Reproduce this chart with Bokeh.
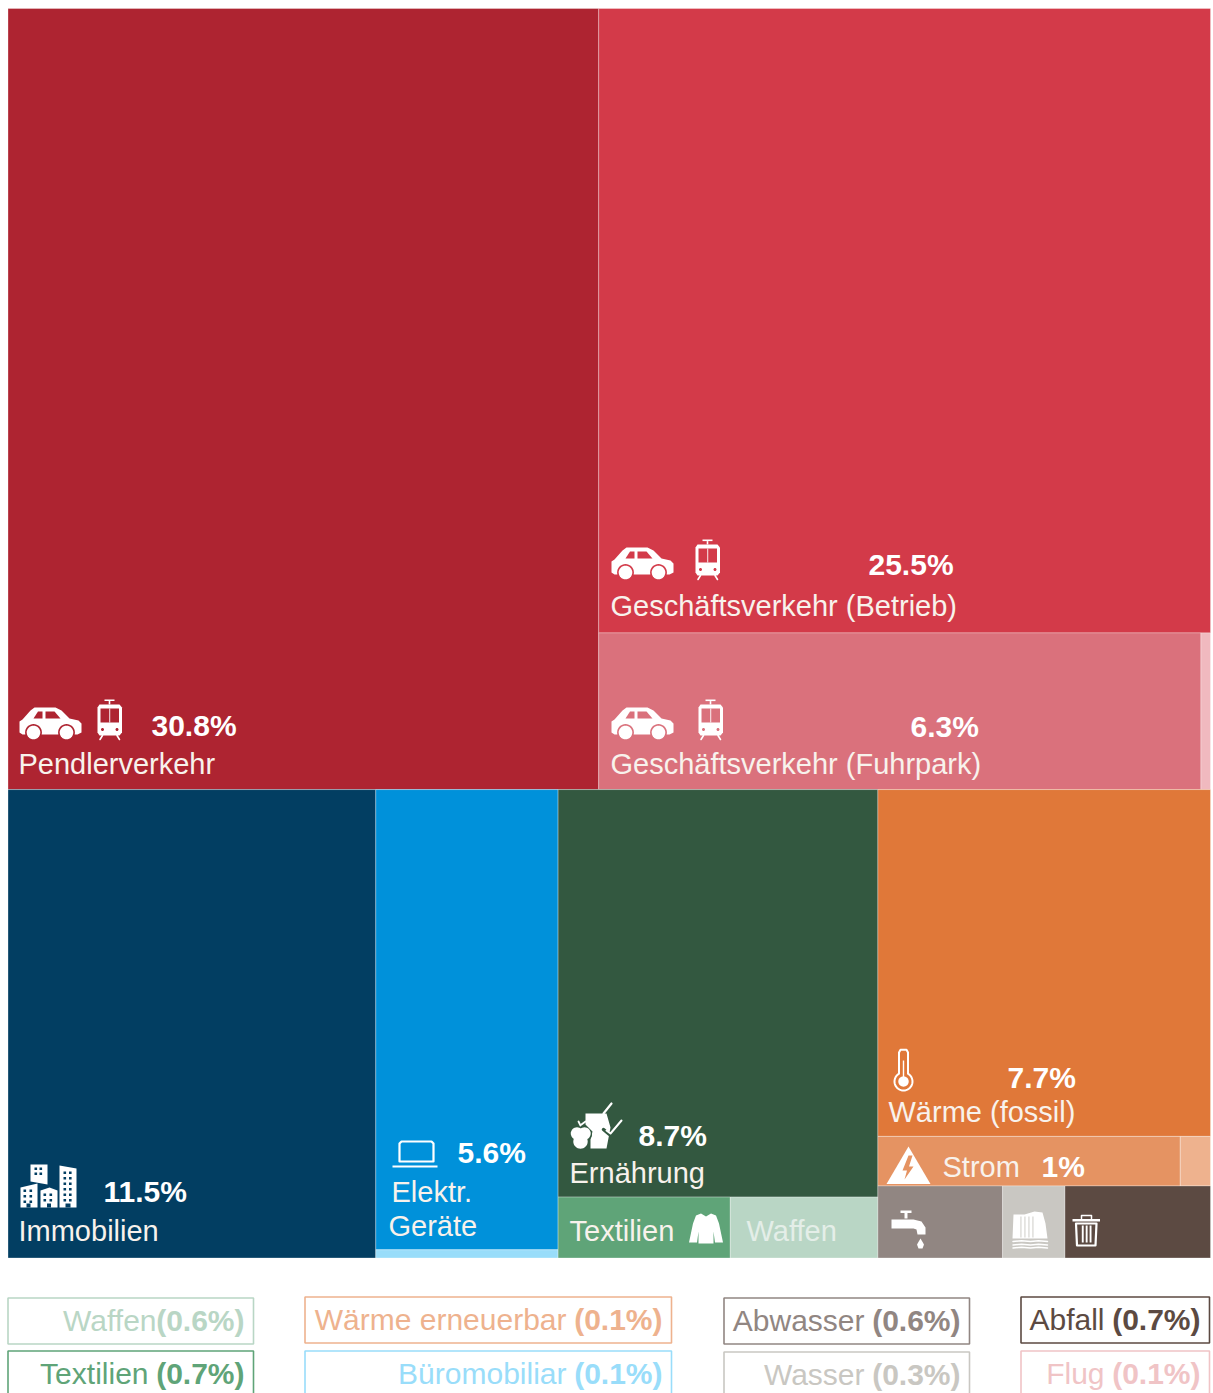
import numpy as np
from bokeh.core.properties import value
from bokeh.embed import file_html
from bokeh.models import ColumnDataSource, Range1d
from bokeh.plotting import figure
from bokeh.resources import INLINE

# Emission shares in percent
pendler = 30.8
betrieb = 25.5
fuhrpark = 6.3
flug = 0.1
immobilien = 11.5
elektro = 5.6
buero = 0.1
ernaehrung = 8.7
textilien = 0.7
waffen = 0.6
waerme_fossil = 7.7
strom = 1.0
waerme_erneuerbar = 0.1
abwasser = 0.6
wasser = 0.3
abfall = 0.7

# Cell colours
C_PENDLER = "#AE2431"
C_BETRIEB = "#D33A49"
C_FUHRPARK = "#DA717C"
C_FLUG = "#F0B9BF"
C_IMMO = "#023E62"
C_ELEKTRO = "#0091DA"
C_BUERO = "#99DDFA"
C_ERN = "#335840"
C_TEX = "#5FA478"
C_WAF = "#B9D6C5"
C_WF = "#E07839"
C_STROM = "#E59362"
C_WE = "#EEB28E"
C_ABW = "#918682"
C_WAS = "#C9C7C2"
C_ABF = "#5C4A42"

FONT = value("Liberation Sans")
W, H = 1213, 1393
LEFT, TOP, RIGHT, BOTTOM = 7.5, 8.0, 1210.0, 1257.5

p = figure(width=W, height=H, output_backend="svg", toolbar_location=None,
           x_range=Range1d(0, W), y_range=Range1d(H, 0), min_border=0)
p.axis.visible = False
p.grid.visible = False
p.outline_line_color = None
p.background_fill_color = "white"
p.border_fill_color = "white"


def total(node):
    return node if isinstance(node, float) else sum(total(c[1]) for c in node)


def split(box, children, horizontal, out):
    """Slice-and-dice treemap: children share the box in proportion to their values."""
    x0, y0, x1, y1 = box
    whole = sum(total(c[1]) for c in children)
    pos = x0 if horizontal else y0
    for colour, node in children:
        share = total(node) / whole
        size = (x1 - x0 if horizontal else y1 - y0) * share
        sub = (pos, y0, pos + size, y1) if horizontal else (x0, pos, x1, pos + size)
        if isinstance(node, float):
            out.append((colour, *sub))
        else:
            split(sub, node, not horizontal, out)
        pos += size


tree = [
    (None, [
        (C_PENDLER, pendler),
        (None, [
            (C_BETRIEB, betrieb),
            (None, [(C_FUHRPARK, fuhrpark), (C_FLUG, flug)]),
        ]),
    ]),
    (None, [
        (C_IMMO, immobilien),
        (None, [(C_ELEKTRO, elektro), (C_BUERO, buero)]),
        (None, [
            (C_ERN, ernaehrung),
            (None, [(C_TEX, textilien), (C_WAF, waffen)]),
        ]),
        (None, [
            (C_WF, waerme_fossil),
            (None, [(C_STROM, strom), (C_WE, waerme_erneuerbar)]),
            (None, [(C_ABW, abwasser), (C_WAS, wasser), (C_ABF, abfall)]),
        ]),
    ]),
]

# The root stacks its two rows vertically
cells = []
split((LEFT, TOP, RIGHT, BOTTOM), tree, False, cells)
p.quad(source=ColumnDataSource(dict(
    color=[c[0] for c in cells],
    left=[c[1] for c in cells], top=[c[2] for c in cells],
    right=[c[3] for c in cells], bottom=[c[4] for c in cells])),
    left="left", right="right", top="top", bottom="bottom",
    fill_color="color", line_color="white", line_alpha=0.3, line_width=1)


# ---- icon helpers: shapes are given in local pixels relative to an origin ----
def poly(ox, oy, pts, color="white"):
    p.patch([ox + a for a, _ in pts], [oy + b for _, b in pts],
            fill_color=color, line_color=None)


def box(ox, oy, x0, y0, x1, y1, color="white"):
    poly(ox, oy, [(x0, y0), (x1, y0), (x1, y1), (x0, y1)], color)


def disc(ox, oy, cx, cy, r, color="white"):
    t = np.linspace(0, 2 * np.pi, 33)[:-1]
    poly(ox, oy, list(zip(cx + r * np.cos(t), cy + r * np.sin(t))), color)


def stroke(ox, oy, pts, width=2.0, color="white"):
    p.line([ox + a for a, _ in pts], [oy + b for _, b in pts],
           line_color=color, line_width=width, line_cap="round", line_join="round")


def car(ox, oy, bg):
    poly(ox, oy, [(0, 14), (3, 12), (11, 3), (15, 0), (36, 0), (42, 3), (50, 11),
                  (59, 13), (62, 16), (62, 25), (58, 27), (3, 27), (0, 25)])
    poly(ox, oy, [(14, 11), (18.5, 4), (23, 4), (23, 11)], bg)
    poly(ox, oy, [(26, 4), (35, 4), (41, 11), (26, 11)], bg)
    for cx in (14, 47):
        disc(ox, oy, cx, 25, 8.4, bg)
        disc(ox, oy, cx, 25, 6.8)


def tram(ox, oy, bg):
    box(ox, oy, 7, 0, 17, 1.6)
    box(ox, oy, 11.2, 1.6, 12.8, 5)
    poly(ox, oy, [(2, 5), (22, 5), (24.5, 8), (24.5, 33), (22, 36), (2, 36), (0, 33), (0, 8)])
    box(ox, oy, 3, 9, 21.5, 23, bg)
    box(ox, oy, 11.8, 9, 12.7, 23)
    disc(ox, oy, 5, 30, 1.5, bg)
    disc(ox, oy, 19.5, 30, 1.5, bg)
    stroke(ox, oy, [(5, 36), (2.5, 40)], 1.6)
    stroke(ox, oy, [(19.5, 36), (22, 40)], 1.6)


def windows(ox, oy, x0, y0, nx, ny, dx, dy, bg):
    for i in range(nx):
        for j in range(ny):
            box(ox, oy, x0 + i * dx, y0 + j * dy, x0 + i * dx + 2.6, y0 + j * dy + 2.6, bg)


def buildings(ox, oy, bg):
    poly(ox, oy, [(10, 0), (27, 0), (27, 20), (10, 17)])
    poly(ox, oy, [(0, 23), (17, 19), (17, 43), (0, 43)])
    poly(ox, oy, [(20, 26), (29, 23), (37, 26), (37, 43), (20, 43)])
    poly(ox, oy, [(39, 1), (56, 4), (56, 43), (39, 43)])
    windows(ox, oy, 14, 3, 2, 2, 5, 5, bg)
    windows(ox, oy, 3, 25, 2, 3, 6, 5.5, bg)
    windows(ox, oy, 23, 29, 2, 2, 6, 5.5, bg)
    windows(ox, oy, 43, 7, 2, 6, 5.5, 5.5, bg)
    box(ox, oy, 6, 39, 10, 43, bg)
    box(ox, oy, 26.5, 39, 30.5, 43, bg)
    box(ox, oy, 45, 39, 50, 43, bg)


def laptop(ox, oy):
    stroke(ox, oy, [(7, 3), (9, 1), (39, 1), (41, 3), (41, 21), (7, 21), (7, 3)], 2.2)
    box(ox, oy, 0, 25, 45, 27)


def food(ox, oy, bg):
    poly(ox, oy, [(15, 10), (36, 10), (40, 24), (36, 45), (20, 45), (20, 36), (22, 28), (15, 21)])
    disc(ox, oy, 6.5, 31, 6.5, bg)
    disc(ox, oy, 15, 31, 6.5, bg)
    disc(ox, oy, 6.5, 30, 6.2)
    disc(ox, oy, 14, 30, 6.2)
    disc(ox, oy, 10, 38, 7.2)
    stroke(ox, oy, [(10, 22), (8, 18)], 1.8)
    stroke(ox, oy, [(11, 21), (15, 18)], 1.8)
    stroke(ox, oy, [(33, 10), (41, 0)], 2.2)
    stroke(ox, oy, [(33, 26), (39, 31), (52, 17)], 3.5, bg)
    stroke(ox, oy, [(36, 27), (40, 30), (51, 17)], 2.0)


def thermometer(ox, oy):
    t = np.linspace(-np.pi / 3, 4 * np.pi / 3, 30)
    arc = [(10 + 9 * np.cos(a), 33 + 9 * np.sin(a)) for a in t]
    outline = [(5.5, 25), (5.5, 4), (7, 1.2), (13, 1.2), (14.5, 4), (14.5, 25)] + arc
    stroke(ox, oy, outline, 2.0)
    disc(ox, oy, 10, 33, 5.2)
    box(ox, oy, 9.3, 12, 10.7, 30)


def warning(ox, oy, bg):
    poly(ox, oy, [(22, 0), (44, 37.5), (0, 37.5)])
    poly(ox, oy, [(22, 9), (16, 24), (20.5, 24), (18, 33), (27, 20), (22.5, 20), (26, 9)], bg)


def shirt(ox, oy):
    poly(ox, oy, [(12, 0), (17, 3), (22, 0), (27, 2), (30, 10), (34, 29), (26, 29), (24.5, 18),
                  (24.5, 30), (9.5, 30), (9.5, 18), (8, 29), (0, 29), (4, 10), (7, 2)])


def faucet(ox, oy):
    box(ox, oy, 9, 0, 20, 2.5)
    box(ox, oy, 13, 2.5, 16, 8)
    poly(ox, oy, [(0, 9), (22, 9), (30, 11), (34, 17), (34, 24), (26, 24), (25, 19), (22, 18), (0, 18)])
    poly(ox, oy, [(29, 28), (32.5, 34), (31, 38), (27, 38), (25.5, 34)])


def waterfall(ox, oy, bg):
    poly(ox, oy, [(1, 3), (12, 3), (22, 0), (30, 1), (33, 12), (35, 27), (0, 27)])
    for x in (8, 12, 16, 20):
        box(ox, oy, x, 5, x + 0.9, 26, bg)
    for y in (30, 33.5, 36.5):
        stroke(ox, oy, [(0.5, y), (9, y - 0.8), (18, y), (26, y - 0.8), (35, y)], 1.5)


def trash(ox, oy):
    box(ox, oy, 0, 4.5, 27.5, 7)
    stroke(ox, oy, [(9, 4), (9, 1), (19, 1), (19, 4)], 1.5)
    stroke(ox, oy, [(3.5, 9), (4.5, 31), (23, 31), (24, 9), (3.5, 9)], 2.2)
    for x in (9.3, 13.2, 17.1):
        box(ox, oy, x, 11, x + 1.9, 28)


car(19, 707, C_PENDLER)
tram(97, 699, C_PENDLER)
car(611, 547, C_BETRIEB)
tram(695, 539, C_BETRIEB)
car(611, 707, C_FUHRPARK)
tram(698, 699, C_FUHRPARK)
buildings(20, 1164, C_IMMO)
laptop(392, 1140)
food(570, 1103, C_ERN)
thermometer(893, 1048)
warning(886, 1146, C_STROM)
shirt(688.5, 1213)
faucet(891, 1210)
waterfall(1012, 1211, C_WAS)
trash(1072, 1214)

# The SVG backend draws "alphabetic" text this far below the requested y, per pixel of size
BASELINE_SHIFT = 0.385


# ---- labels inside the cells ----
def label(x, y, s, bold=False, color="#F8F2EC", size=29, align="left"):
    p.text([x], [y - BASELINE_SHIFT * size], text=[s], text_font=FONT,
           text_font_size=f"{size}px",
           text_font_style="bold" if bold else "normal", text_color=color,
           text_align=align, text_baseline="alphabetic")


def pct(v):
    return f"{v:g}%"


label(18, 775, "Pendlerverkehr")
label(151, 737, pct(pendler), True, "white", 30)
label(610, 617, "Geschäftsverkehr (Betrieb)")
label(868, 576, pct(betrieb), True, "white", 30)
label(610, 775, "Geschäftsverkehr (Fuhrpark)")
label(910, 738, pct(fuhrpark), True, "white", 30)
label(18, 1242, "Immobilien")
label(103, 1203, pct(immobilien), True, "white", 30)
label(391, 1203, "Elektr.")
label(388, 1237, "Geräte")
label(457, 1164, pct(elektro), True, "white", 30)
label(569, 1184, "Ernährung")
label(638, 1147, pct(ernaehrung), True, "white", 30)
label(569, 1242, "Textilien")
label(746, 1242, "Waffen", color="#E4EEE8")
label(888, 1123, "Wärme (fossil)")
label(1007, 1089, pct(waerme_fossil), True, "white", 30)
label(942, 1178, "Strom")
label(1041, 1178, pct(strom), True, "white", 30)

# ---- legend boxes for the small categories ----
legend_names = ["Waffen", "Textilien", "Wärme erneuerbar", "Büromobiliar",
                "Abwasser", "Wasser", "Abfall", "Flug"]
legend_values = [waffen, textilien, waerme_erneuerbar, buero, abwasser, wasser, abfall, flug]
legend_colors = [C_WAF, C_TEX, C_WE, C_BUERO, C_ABW, C_WAS, C_ABF, "#F0C4C6"]
legend_left = [7.5, 7.5, 304.5, 304.5, 723.5, 723.5, 1020.5, 1020.5]
legend_right = [253, 253, 671, 671, 969, 969, 1209, 1209]
legend_top = [1297.5, 1350.5, 1296.5, 1350.5, 1297.5, 1351.5, 1296.5, 1350.5]
legend_gap = [0, 8, 8, 8, 8, 8, 8, 8]
BOX_H = 46
BOLD_W = 88

for name, val, col, x0, x1, y0, gap in zip(legend_names, legend_values, legend_colors,
                                            legend_left, legend_right, legend_top, legend_gap):
    p.quad(left=[x0], right=[x1], top=[y0], bottom=[y0 + BOX_H], fill_color="white",
           line_color=col, line_width=1.6)
    base = y0 + 34
    label(x1 - 9, base, f"({val:g}%)", True, col, 30, "right")
    label(x1 - 9 - BOLD_W - gap, base, name, False, col, 30, "right")

open("out.html", "w").write(file_html(p, INLINE))
